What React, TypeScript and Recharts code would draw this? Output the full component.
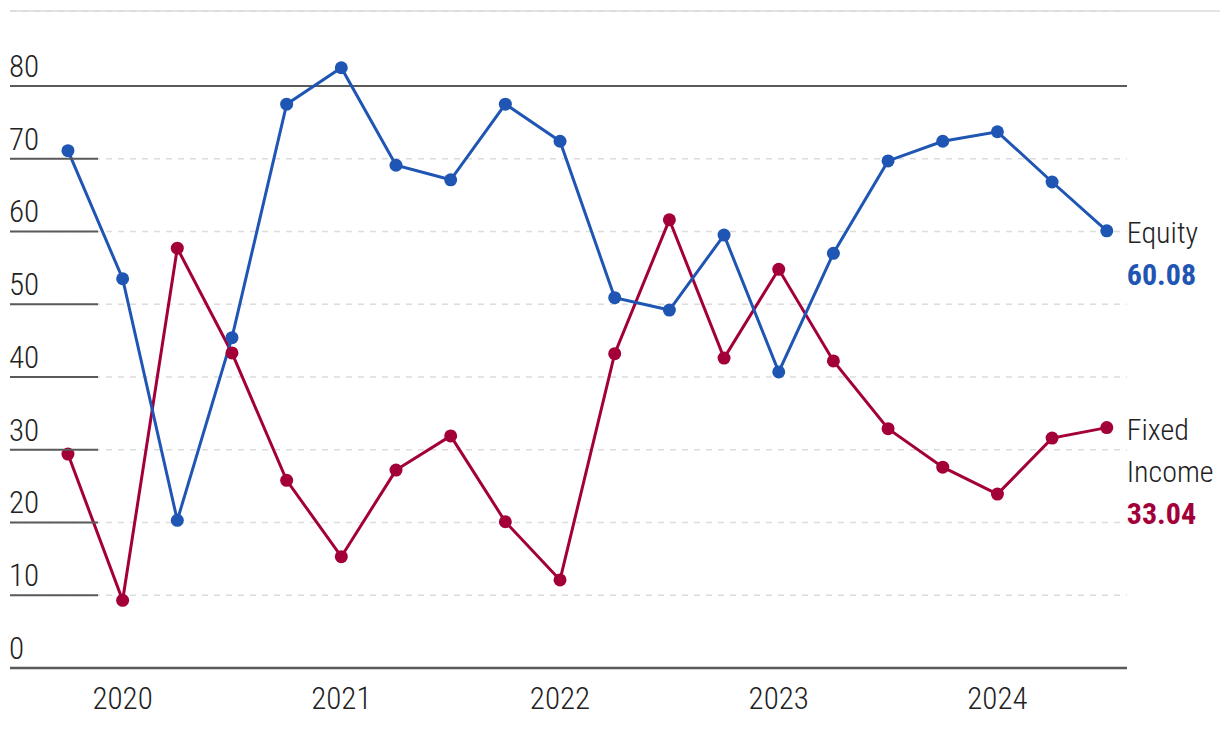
import React from 'react';
import { LineChart, Line, XAxis, YAxis, CartesianGrid, ReferenceLine } from 'recharts';

// quarterly points, 2019 Q4 .. 2024 Q3
const periods = [
  '2019 Q4', '2020 Q1', '2020 Q2', '2020 Q3', '2020 Q4',
  '2021 Q1', '2021 Q2', '2021 Q3', '2021 Q4',
  '2022 Q1', '2022 Q2', '2022 Q3', '2022 Q4',
  '2023 Q1', '2023 Q2', '2023 Q3', '2023 Q4',
  '2024 Q1', '2024 Q2', '2024 Q3',
];

const equity = [
  71.1, 53.5, 20.3, 45.4, 77.5, 82.5, 69.1, 67.1, 77.5, 72.4,
  50.9, 49.2, 59.5, 40.7, 57.0, 69.7, 72.4, 73.7, 66.8, 60.08,
];

const fixedIncome = [
  29.4, 9.3, 57.7, 43.3, 25.8, 15.3, 27.2, 31.9, 20.1, 12.1,
  43.2, 61.6, 42.6, 54.8, 42.2, 32.9, 27.6, 23.9, 31.6, 33.04,
];

const yearTicks = [1, 5, 9, 13, 17];
const yearLabels = ['2020', '2021', '2022', '2023', '2024'];
const yTicks = [0, 10, 20, 30, 40, 50, 60, 70, 80];

const BLUE = '#1f55b3';
const RED = '#a3003a';
const FONT = "'Roboto Condensed', 'Liberation Sans Narrow', 'DejaVu Sans Condensed', sans-serif";

const data = periods.map((p, i) => ({
  idx: i,
  period: p,
  equity: equity[i],
  fixedIncome: fixedIncome[i],
}));

const YTick = (props: any) => {
  const { y, payload } = props;
  return (
    <g>
      {payload.value !== 0 && payload.value !== 80 && (
        <line x1={10} x2={98} y1={y} y2={y} stroke="#5a5a5a" strokeWidth={2} />
      )}
      <text x={9} y={y - 9} fontFamily={FONT} fontSize={31} fontWeight={300} fill="#222">
        {payload.value}
      </text>
    </g>
  );
};

const XTick = (props: any) => {
  const { x, y, payload } = props;
  const i = yearTicks.indexOf(payload.value);
  return (
    <text x={x} y={y + 33} textAnchor="middle" fontFamily={FONT} fontSize={31} fontWeight={300} fill="#222">
      {yearLabels[i]}
    </text>
  );
};

const endLabel = (lines: string[], value: number, color: string) => (props: any) => {
  const { x, y, index } = props;
  if (index !== periods.length - 1) return null;
  return (
    <g fontFamily={FONT} fontSize={30}>
      {lines.map((t, k) => (
        <text key={k} x={x + 20} y={y + 12 + k * 42} fill="#222" fontWeight={300}>
          {t}
        </text>
      ))}
      <text x={x + 20} y={y + 12 + lines.length * 42} fill={color} fontWeight="bold">
        {value.toFixed(2)}
      </text>
    </g>
  );
};

export default function App() {
  return (
    <div style={{ position: 'absolute', left: 0, top: 0, width: 1220, height: 730, background: '#fff' }}>
      <div style={{ position: 'absolute', left: 10, top: 10, width: 1210, height: 2, background: '#e3e3e3' }} />
      <LineChart
        width={1220}
        height={730}
        data={data}
        margin={{ top: 11, right: 93, bottom: 22, left: 9 }}
      >
        <CartesianGrid vertical={false} stroke="#dcdcdc" strokeDasharray="6 6" strokeWidth={1.5} />
        <XAxis
          dataKey="idx"
          type="number"
          domain={[-1.06, 19.37]}
          ticks={yearTicks}
          tick={<XTick />}
          tickLine={false}
          axisLine={{ stroke: '#5a5a5a', strokeWidth: 2.5 }}
          height={40}
          interval={0}
        />
        <YAxis
          type="number"
          domain={[0, 90.3]}
          ticks={yTicks}
          tick={<YTick />}
          tickLine={false}
          axisLine={false}
          width={1}
          interval={0}
        />
        <ReferenceLine y={80} stroke="#5a5a5a" strokeWidth={2} />
        <Line
          dataKey="fixedIncome"
          stroke={RED}
          strokeWidth={3}
          dot={{ r: 6.5, fill: RED, stroke: 'none' }}
          activeDot={false}
          isAnimationActive={false}
          label={endLabel(['Fixed', 'Income'], fixedIncome[fixedIncome.length - 1], RED)}
        />
        <Line
          dataKey="equity"
          stroke={BLUE}
          strokeWidth={3}
          dot={{ r: 6.5, fill: BLUE, stroke: 'none' }}
          activeDot={false}
          isAnimationActive={false}
          label={endLabel(['Equity'], equity[equity.length - 1], BLUE)}
        />
      </LineChart>
    </div>
  );
}
